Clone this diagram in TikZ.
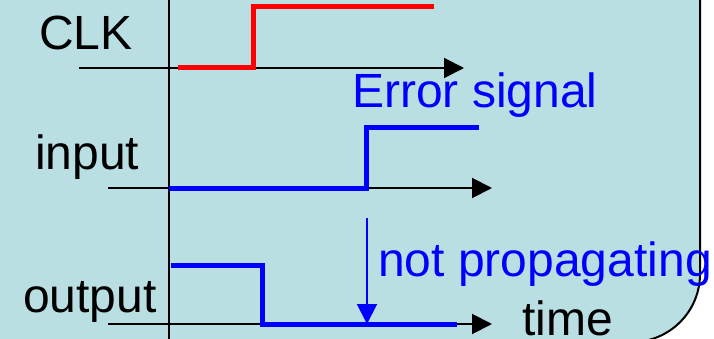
\documentclass[tikz,border=0pt]{standalone}
\usepackage{fontspec}
\setmainfont{Liberation Sans}
\usetikzlibrary{arrows.meta}
\definecolor{panel}{RGB}{185,223,227}
\definecolor{sigblue}{RGB}{0,0,255}
\definecolor{sigred}{RGB}{255,0,0}
\begin{document}
\begin{tikzpicture}[x=1pt,y=-1pt,
  txt/.style={anchor=base west,inner sep=0pt,font=\fontsize{48}{57}\selectfont},
  axis/.style={line width=2pt,-{Triangle[length=20pt,width=20pt]}},
  wave/.style={line width=5pt,line join=miter},
  pointer/.style={line width=2pt,sigblue,-{Triangle[length=20pt,width=20pt]}}]
\useasboundingbox (0,0) rectangle (714,339);
\clip (0,0) rectangle (714,339);
\fill[white] (0,0) rectangle (714,339);
% panel with a rounded lower right corner
\filldraw[fill=panel,draw=black,line width=2pt]
  (-10,-10) -- (700,-10) -- (700,274) arc[start angle=0,end angle=90,radius=68]
  -- (-10,342) -- cycle;
% time origin
\coordinate (t0top) at (169,-5);
\coordinate (t0bot) at (169,345);
\draw[line width=2pt] (t0top) -- (t0bot);
% time axes
\coordinate (clkA) at (79,68);   \coordinate (clkB) at (464,68);
\coordinate (inA) at (108,188);  \coordinate (inB) at (492,188);
\coordinate (outA) at (108,324); \coordinate (outB) at (492,324);
\draw[axis] (clkA) -- (clkB);
\draw[axis] (inA) -- (inB);
\draw[axis] (outA) -- (outB);
% waveforms
\draw[wave,sigred] (178,68) -- (253,68) -- (253,7) -- (434,7);
\draw[wave,sigblue] (169,188) -- (366,188) -- (366,128) -- (479,128);
\draw[wave,sigblue] (171,265) -- (262,265) -- (262,324) -- (457,324);
% labels
\node[txt] (clk) at (39,50) {CLK};
\node[txt,sigblue] (err) at (352,108) {Error signal};
\node[txt] (in) at (35,170) {input};
\node[txt] (out) at (23,312) {output};
\node[txt,sigblue] (np) at (378,276) {not propagating};
\node[txt] (tm) at (522,335) {time};
% error pointer
\coordinate (pA) at (367,218);
\coordinate (pB) at (367,324);
\draw[pointer] (pA) -- (pB);
\end{tikzpicture}
\end{document}
